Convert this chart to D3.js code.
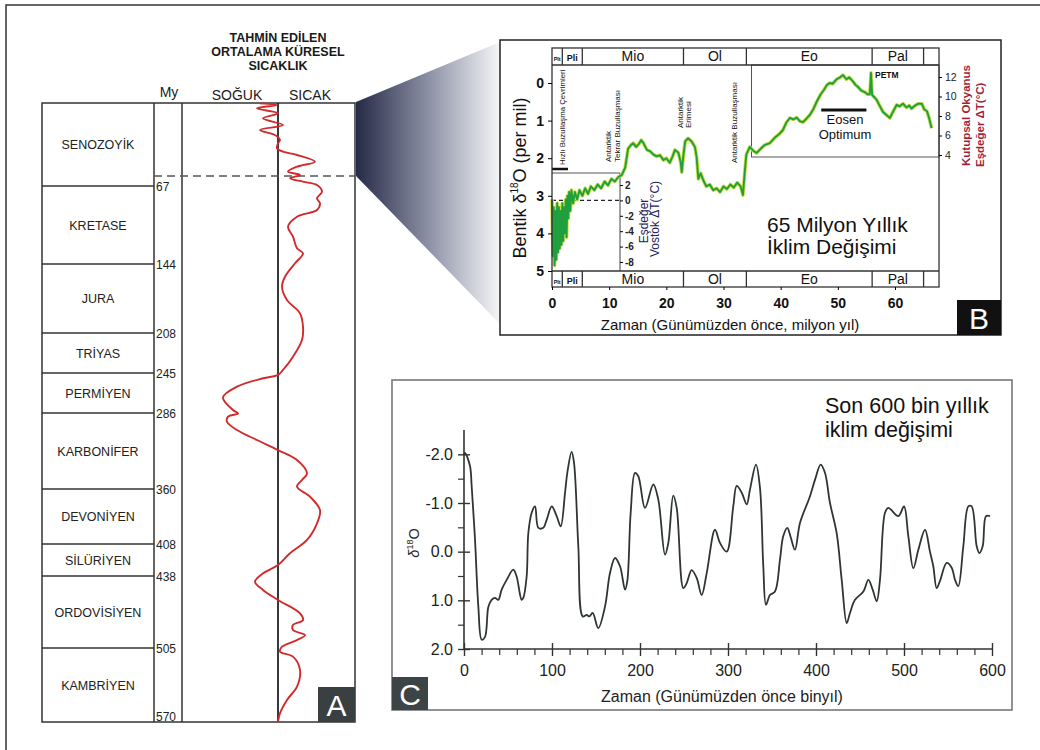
<!DOCTYPE html>
<html lang="tr">
<head><meta charset="utf-8">
<title>İklim Değişimi - D3</title>
<style>
body { margin: 0; background: #fff; }
svg { display: block; font-family: "Liberation Sans", Arial, Helvetica, sans-serif; }
.axis path.domain { display: none; }
</style>
</head>
<body>
<svg id="chart"></svg>
<script src="https://cdn.jsdelivr.net/npm/d3@7"></script>
<script>

// ---- Panel A: jeolojik zaman cetveli ----
var periodNames = ["SENOZOYİK", "KRETASE", "JURA", "TRİYAS", "PERMİYEN", "KARBONİFER",
                   "DEVONİYEN", "SİLÜRİYEN", "ORDOVİSİYEN", "KAMBRİYEN"];
var periodAges = [0, 67, 144, 208, 245, 286, 360, 408, 438, 505, 570];
var zoomAge = 59; // kesikli çizgi (B paneline bağlanan aralık)

var tempAge = [0.3, 1.6, 4.3, 8.3, 12.4, 17.8, 21.8, 25.8, 29.9, 32.5, 36.6, 39.3, 42, 47.4, 51.4,
  55.4, 58.1, 60.8, 63.5, 66.2, 72.6, 79.1, 84.1, 90.7, 97.3, 107.2, 117, 128.5, 133.5, 143.3,
  155.8, 165.1, 177.4, 189.8, 202.2, 214.5, 229.9, 242.2, 247, 250.4, 259, 270, 282.9, 286.3, 289.6,
  294.5, 302.6, 312.3, 322.1, 331.8, 344.8, 351.2, 357.8, 366.7, 378.4, 390, 404.5, 416.7, 427.7, 435.5,
  443.3, 451, 460.3, 472.7, 479, 483.6, 488.3, 493, 497.6, 503.8, 508.2, 512.6, 524.3, 539, 550.6,
  562.3, 570];
var tempVal = [-1.8, -0.1, -2.1, 0, -1.5, 0.5, -1.8, -0.3, 0.2, 0, -0.1, 0.5, 1.9, 3.7, 1.9,
  1.0, 2.2, 1.2, 2.5, 3.9, 4.4, 3.9, 4.2, 3.9, 1.9, 1.0, 1.5, 1.9, 2.5, 1.7,
  0.7, 0.4, 0.9, 2.2, 2.5, 2.4, 1.5, 0.5, 0, -1.5, -4.1, -5.5, -4.5, -4.0, -5.0,
  -5.1, -4.1, -2.1, 0, 1.9, 2.9, 2.4, 1.9, 3.2, 4.2, 3.9, 2.9, 1.2, 0, -1.5,
  -2.3, -1.5, 0, 2.2, 2.5, 1.5, 1.5, 2.7, 1.9, 0.4, 0.2, 1.5, 2.2, 1.9, 0.9,
  0.2, 0];

// ---- Panel B: 65 milyon yıl bentik δ18O ----
var epochNames = ["Plt", "Pli", "Mio", "Ol", "Eo", "Pal", ""];
var epochBounds = [0, 1.8, 5.3, 23, 34, 56, 65, 67.7];
var bTicksX = [0, 10, 20, 30, 40, 50, 60];
var bTicksY = [0, 1, 2, 3, 4, 5];
var polarTicks = [4, 6, 8, 10, 12];
var vostokTicks = [-8, -6, -4, -2, 0, 2];

var bentT = [0, 0.15, 0.3, 0.45, 0.6, 0.75, 0.9, 1.05, 1.2, 1.35, 1.5, 1.65, 1.8, 1.95, 2.1, 2.25, 2.4, 2.55,
  2.7, 2.85, 3.0, 3.2, 3.4, 3.7, 4.0, 4.4, 4.8, 5.3, 5.8, 6.3, 6.8, 7.4, 8.0, 8.6, 9.2, 9.8, 10.4, 11.0,
  11.6, 12.2, 12.8, 13.3, 13.8, 14.2, 14.7, 15.2, 15.6, 16.0, 16.6, 17.2, 17.7, 18.3, 18.9, 19.5, 20.0,
  20.6, 21.1, 21.5, 22.1, 22.5, 22.7, 23.0, 23.3, 23.8, 24.4, 25.0, 25.3, 25.6, 26.0, 26.5, 27.0, 27.6,
  28.2, 28.8, 29.4, 30.0, 30.6, 31.2, 31.8, 32.4, 33.0, 33.4, 33.7, 34.0, 34.6, 35.2, 35.8, 36.5, 37.2,
  38.1, 39.0, 39.8, 40.4, 41.0, 41.6, 42.2, 42.8, 43.4, 43.9, 44.5, 45.1, 45.7, 46.3, 47.0, 47.5, 48.1,
  48.6, 49.1, 49.8, 50.4, 50.9, 51.5, 52.0, 52.6, 53.1, 53.5, 54.1, 54.7, 55.2, 55.6, 55.8, 56.0, 56.4,
  56.8, 57.3, 57.9, 58.5, 59.1, 59.7, 60.3, 60.8, 61.4, 62.0, 62.5, 62.9, 63.5, 64.1, 64.7, 65.1, 65.6,
  66.0, 66.4];
var bentV = [3.1, 4.6, 3.3, 4.85, 3.4, 4.7, 3.2, 4.5, 3.3, 4.4, 3.4, 4.3, 3.2, 4.2, 3.3, 4.0, 3.1, 4.1,
  3.0, 3.6, 2.9, 3.4, 2.85, 3.2, 2.9, 3.1, 2.85, 3.0, 2.8, 2.95, 2.75, 2.85, 2.7, 2.8, 2.62, 2.72, 2.55, 2.62,
  2.5, 2.45, 2.25, 1.75, 1.65, 1.6, 1.7, 1.62, 1.52, 1.6, 1.78, 1.82, 1.9, 1.95, 1.92, 2.05, 2.0,
  2.12, 1.95, 1.78, 1.85, 2.1, 2.37, 1.9, 1.55, 1.47, 1.55, 1.7, 1.97, 2.55, 2.4, 2.6, 2.75, 2.7,
  2.85, 2.8, 2.9, 2.75, 2.82, 2.7, 2.78, 2.65, 2.75, 2.98, 2.4, 1.9, 1.7, 1.8, 1.86, 1.75, 1.65,
  1.6, 1.45, 1.35, 1.25, 1.05, 0.93, 0.97, 0.92, 1.02, 1.04, 0.95, 0.85, 0.7, 0.5, 0.3, 0.2, 0.05,
  0.0, 0.02, -0.1, -0.15, -0.21, -0.1, -0.15, -0.05, 0.05, 0.1, 0.2, 0.24, 0.3, 0.3, -0.27, 0.32, 0.38,
  0.45, 0.6, 0.77, 0.85, 0.93, 0.75, 0.58, 0.62, 0.55, 0.65, 0.6, 0.68, 0.6, 0.55, 0.55, 0.7, 0.75,
  0.95, 1.2];

// ---- Panel C: son 600 bin yıl ----
var cTicksX = [0, 100, 200, 300, 400, 500, 600];
var cTicksY = [-2, -1, 0, 1, 2];
var sonT = [0, 1.1, 6.8, 8.7, 12.5, 16.3, 20.1, 23.9, 27.7, 31.4, 35.2, 39, 42.8, 48.5, 56, 59.8, 65.5, 67.4,
  71.2, 73.1, 76.9, 80.7, 84.5, 90.1, 94, 99.7, 105.3, 109.9, 114.8, 117.4, 122.3, 125, 129.9, 134.9,
  139.4, 142.4, 146.2, 152.6, 160.2, 165.9, 171.6, 177.3, 183, 185.6, 189.4, 194.3, 198.1, 205.7, 215.1,
  220.8, 228.4, 232.2, 237.8, 241.7, 249.2, 253, 258.7, 264.4, 270.1, 275.8, 285.2, 290.9, 298.5, 306,
  309.9, 315.6, 321.3, 325, 331.8, 336.4, 340.1, 343.2, 347.7, 353.4, 359.1, 362.8, 367.4, 371.2, 376.1,
  381.8, 393.2, 398.9, 405.3, 410.2, 415.9, 423.5, 429.2, 434.9, 438.6, 444.3, 453.8, 459.5, 464.4, 469,
  472.7, 478.4, 482.2, 493.6, 500, 504.9, 510.6, 516.3, 523.9, 529.5, 533.3, 537.1, 540.9, 548.5, 554.2,
  558, 561.7, 567.4, 573.1, 576.9, 582.6, 585.6, 589.4, 593.2, 597.7];
var sonV = [-2.0, -2.03, -1.76, -1.35, -0.25, 1.13, 1.81, 1.75, 1.13, 0.99, 0.95, 0.99, 0.78, 0.58, 0.37, 0.51, 0.99, 0.95,
  0.51, -0.38, -0.8, -0.93, -0.49, -0.49, -0.66, -0.93, -0.73, -0.52, -1.21, -1.62, -2.05, -1.83, -0.11, 1.33,
  1.30, 1.33, 1.26, 1.57, 1.13, 0.44, 0.13, 0.30, 0.78, 0.6, -0.8, -1.62, -1.55, -0.9, -1.38,
  -1.07, 0.06, -0.18, -1.15, -0.9, 0.75, 0.65, 0.38, 0.54, 0.89, 0.44, -0.45, -0.18, 0, -0.93,
  -1.35, -1.21, -0.97, -1.28, -1.79, -1.3, 0.3, 1.09, 0.89, 0.82, 0.16, -0.32, -0.49, -0.3, -0.04,
  -0.59, -1.14, -1.48, -1.79, -1.62, -1.0, -0.38, 0.58, 1.47, 1.26, 0.99, 0.82, 0.58, 0.78, 1.02,
  0.58, -0.8, -0.9, -0.73, -0.93, -0.32, 0.34, -0.04, -0.45, 0.0, 0.3, 0.75, 0.6, 0.23, 0.33,
  0.58, 0.71, -0.11, -0.93, -0.93, -0.11, 0.03, -0.11, -0.73, -0.73];

var svg = d3.select("#chart").attr("width", 1040).attr("height", 750);

// outer frame
svg.append("rect").attr("x", 6).attr("y", 5).attr("width", 1100).attr("height", 1000)
    .attr("fill", "none").attr("stroke", "#333").attr("stroke-width", 1.5);

// gradient wedge from A to B
var grad = svg.append("defs").append("linearGradient").attr("id", "wedge")
    .attr("gradientUnits", "userSpaceOnUse")
    .attr("x1", 356).attr("x2", 500).attr("y1", 0).attr("y2", 0);
grad.selectAll("stop")
    .data([[0, "#252a46"], [0.5, "#8c90a5"], [1, "#f6f6f8"]])
  .enter().append("stop")
    .attr("offset", function(d) { return d[0]; })
    .attr("stop-color", function(d) { return d[1]; });
svg.append("path").attr("d", "M356,102 L500,42 L500,324 L356,176 Z").attr("fill", "url(#wedge)");

function line(g, x1, y1, x2, y2, stroke, w) {
  return g.append("line").attr("x1", x1).attr("y1", y1).attr("x2", x2).attr("y2", y2)
      .attr("stroke", stroke || "#333").attr("stroke-width", w || 1.5);
}
function text(g, x, y, str, size, opts) {
  opts = opts || {};
  return g.append("text").attr("x", x).attr("y", y).text(str)
      .attr("font-size", size)
      .attr("text-anchor", opts.anchor || "start")
      .attr("font-weight", opts.weight || "normal")
      .attr("fill", opts.fill || "#1a1a1a");
}
function vtext(g, x, y, str, size, opts) {
  opts = opts || {};
  return g.append("text").attr("transform", "translate(" + x + "," + y + ") rotate(-90)")
      .text(str).attr("font-size", size)
      .attr("text-anchor", opts.anchor || "start")
      .attr("font-weight", opts.weight || "normal")
      .attr("fill", opts.fill || "#111");
}

// ================= PANEL A =================
var gA = svg.append("g");
var yA = d3.scaleLinear().domain(periodAges)
    .range([103, 186, 264, 333, 373, 413, 489, 544, 576, 648, 722]);
var xA = d3.scaleLinear().domain([-8, 8]).range([198, 358]);

text(gA, 278, 42, "TAHMİN EDİLEN", 12.5, {anchor: "middle", weight: "bold"});
text(gA, 278, 56, "ORTALAMA KÜRESEL", 12.5, {anchor: "middle", weight: "bold"});
text(gA, 278, 70, "SICAKLIK", 12.5, {anchor: "middle", weight: "bold"});
text(gA, 169, 97, "My", 14, {anchor: "middle"});
text(gA, 237, 100, "SOĞUK", 14, {anchor: "middle"});
text(gA, 310, 100, "SICAK", 14, {anchor: "middle"});

gA.append("rect").attr("x", 42).attr("y", yA(0)).attr("width", 313).attr("height", yA(570) - yA(0))
    .attr("fill", "none").attr("stroke", "#333").attr("stroke-width", 1.5);
[154, 182].forEach(function(x) { line(gA, x, yA(0), x, yA(570)); });
line(gA, xA(0), yA(0), xA(0), yA(570), "#222", 1.8);
periodAges.slice(1, -1).forEach(function(a) { line(gA, 42, yA(a), 154, yA(a)); });

periodNames.forEach(function(n, i) {
  text(gA, 98, (yA(periodAges[i]) + yA(periodAges[i + 1])) / 2 + 4.5, n, 12.5, {anchor: "middle", fill: "#222"});
});
periodAges.slice(1).forEach(function(a) {
  text(gA, 156, Math.min(yA(a) + 4.5, 721), a, 12, {fill: "#222"});
});

line(gA, 154, yA(zoomAge), 355, yA(zoomAge), "#555", 1.5).attr("stroke-dasharray", "8,5");

gA.append("path")
    .datum(tempAge.map(function(a, i) { return [a, tempVal[i]]; }))
    .attr("fill", "none").attr("stroke", "#d22a2a").attr("stroke-width", 1.9)
    .attr("d", d3.line().x(function(d) { return xA(d[1]); }).y(function(d) { return yA(d[0]); })
      .curve(d3.curveCatmullRom));

gA.append("rect").attr("x", 318).attr("y", 687).attr("width", 37).attr("height", 35).attr("fill", "#3a3f42");
text(gA, 336.5, 716, "A", 30, {anchor: "middle", fill: "#fff"});

// ================= PANEL B =================
var gB = svg.append("g");
gB.append("rect").attr("x", 500).attr("y", 40).attr("width", 501).attr("height", 295)
    .attr("fill", "#fff").attr("stroke", "#222").attr("stroke-width", 1.5);

var xB = d3.scaleLinear().domain([0, 60]).range([552, 895]);
var yB = d3.scaleLinear().domain([0, 5]).range([83, 271]);
var yPolar = d3.scaleLinear().domain([4, 12]).range([155, 77]);
var yVostok = d3.scaleLinear().domain([-8, 2]).range([262, 185]);
var bL = xB(0), bR = xB(67.7), bT = 48, bBot = 287;

// insets
gB.append("rect").attr("x", xB(34.9)).attr("y", 65).attr("width", bR - xB(34.9)).attr("height", yPolar(4) + 2 - 65)
    .attr("fill", "none").attr("stroke", "#555").attr("stroke-width", 1);
line(gB, bL, 173, xB(11.9), 173, "#555", 1);
line(gB, xB(11.9), 173, xB(11.9), yB(5), "#444", 1);
line(gB, bL, yVostok(0), xB(11.9), yVostok(0), "#223", 1.1).attr("stroke-dasharray", "4,3");
line(gB, bL, 169, xB(2.8), 169, "#111", 2.5);

// bentic curve
var bentLine = d3.line().x(function(d) { return xB(d[0]); }).y(function(d) { return yB(d[1]); });
var bentData = bentT.map(function(t, i) { return [t, bentV[i]]; });
gB.append("path").datum(bentData).attr("fill", "none").attr("stroke", "#c9dc3c")
    .attr("stroke-width", 3.6).attr("stroke-linejoin", "round").attr("d", bentLine);
gB.append("path").datum(bentData).attr("fill", "none").attr("stroke", "#1f9f3e")
    .attr("stroke-width", 1.9).attr("stroke-linejoin", "round").attr("d", bentLine);

// frame and epoch bars
gB.append("rect").attr("x", bL).attr("y", bT).attr("width", bR - bL).attr("height", bBot - bT)
    .attr("fill", "none").attr("stroke", "#333").attr("stroke-width", 1.3);
line(gB, bL, 65, bR, 65, "#333", 1.3);
line(gB, bL, yB(5), bR, yB(5), "#333", 1.3);
epochBounds.slice(1, -1).forEach(function(b) {
  line(gB, xB(b), bT, xB(b), 65, "#333", 1.3);
  line(gB, xB(b), yB(5), xB(b), bBot, "#333", 1.3);
});
epochNames.forEach(function(n, i) {
  var cx = (xB(epochBounds[i]) + xB(epochBounds[i + 1])) / 2;
  var size = i === 0 ? 5.5 : (i === 1 ? 9 : 14);
  text(gB, cx, 61, n, size, {anchor: "middle", weight: i < 2 ? "bold" : "normal", fill: "#111"});
  text(gB, cx, 283.5, n, size, {anchor: "middle", weight: i < 2 ? "bold" : "normal", fill: "#111"});
});

// axes
var axL = gB.append("g").attr("class", "axis").attr("transform", "translate(" + bL + ",0)")
    .call(d3.axisLeft(yB).tickValues(bTicksY).tickSize(4).tickPadding(4).tickFormat(d3.format("d")));
axL.selectAll("text").attr("font-size", 14).attr("font-weight", "bold").attr("font-family", null).attr("fill", "#111");

var axBt = gB.append("g").attr("class", "axis").attr("transform", "translate(0," + bBot + ")")
    .call(d3.axisBottom(xB).tickValues(bTicksX).tickSize(3).tickPadding(8).tickFormat(d3.format("d")));
axBt.selectAll("text").attr("font-size", 14).attr("font-weight", "bold").attr("font-family", null).attr("fill", "#111");

var axP = gB.append("g").attr("class", "axis").attr("transform", "translate(" + bR + ",0)")
    .call(d3.axisRight(yPolar).tickValues(polarTicks).tickSize(3).tickPadding(3));
axP.selectAll("text").attr("font-size", 10.5).attr("font-family", null).attr("fill", "#222");

var axV = gB.append("g").attr("class", "axis").attr("transform", "translate(" + xB(11.9) + ",0)")
    .call(d3.axisRight(yVostok).tickValues(vostokTicks).tickSize(3).tickPadding(2)
      .tickFormat(function(d) { return d < 0 ? "-" + (-d) : d; }));
axV.selectAll("text").attr("font-size", 10).attr("font-weight", "bold").attr("font-family", null).attr("fill", "#222");

// axis titles
var yl = vtext(gB, 526, 178, "", 18, {anchor: "middle", fill: "#111"});
yl.append("tspan").text("Bentik δ");
yl.append("tspan").text("18").attr("font-size", 10).attr("dy", -8);
yl.append("tspan").text("O (per mil)").attr("dy", 8);

text(gB, 730, 330, "Zaman (Günümüzden önce, milyon yıl)", 15, {anchor: "middle", fill: "#111"});
vtext(gB, 970, 166, "Kutupsal Okyanus", 11.5, {weight: "bold", fill: "#a51f3b"});
vtext(gB, 984, 167, "Eşdeğer ΔT(°C)", 11.5, {weight: "bold", fill: "#a51f3b"});
vtext(gB, 648, 221, "Eşdeğer", 12, {anchor: "middle", fill: "#1c2160"});
vtext(gB, 659, 219, "Vostok ΔT(°C)", 12, {anchor: "middle", fill: "#1c2160"});

// annotations
vtext(gB, 565, 165, "Hızlı Buzullaşma Çevrimleri", 7.8);
vtext(gB, 611, 162, "Antarktik", 8);
vtext(gB, 620, 162, "Tekrar Buzullaşması", 8);
vtext(gB, 683, 128, "Antarktik", 8);
vtext(gB, 691, 128, "Erimesi", 8);
vtext(gB, 737, 163, "Antarktik Buzullaşması", 8);
text(gB, 875, 78, "PETM", 8.5, {weight: "bold", fill: "#111"});
line(gB, xB(47.1), 110, xB(55.0), 110, "#111", 3);
text(gB, 845, 124, "Eosen", 13, {anchor: "middle", fill: "#111"});
text(gB, 845, 138.5, "Optimum", 13, {anchor: "middle", fill: "#111"});
text(gB, 767, 232, "65 Milyon Yıllık", 21, {fill: "#111"});
text(gB, 767, 254, "İklim Değişimi", 21, {fill: "#111"});

gB.append("rect").attr("x", 957).attr("y", 300).attr("width", 44).attr("height", 35).attr("fill", "#111");
text(gB, 979, 329, "B", 30, {anchor: "middle", fill: "#fff"});

// ================= PANEL C =================
var gC = svg.append("g");
gC.append("rect").attr("x", 392).attr("y", 380).attr("width", 620).attr("height", 330)
    .attr("fill", "#fff").attr("stroke", "#777").attr("stroke-width", 1.6);

var xC = d3.scaleLinear().domain([0, 600]).range([464, 992]);
var yC = d3.scaleLinear().domain([-2.5, 2]).range([430, 649]);

line(gC, xC(0), yC(-2.5), xC(0), yC(2), "#333", 1.6);
line(gC, xC(0), yC(2), xC(600), yC(2), "#333", 1.6);

var axCy = gC.append("g").attr("class", "axis").attr("transform", "translate(" + xC(0) + ",0)")
    .call(d3.axisLeft(yC).tickValues(cTicksY).tickSize(6).tickPadding(5)
      .tickFormat(function(d) { return (d < 0 ? "-" : "") + Math.abs(d).toFixed(1); }));
axCy.selectAll(".tick line").attr("x1", 6).attr("stroke", "#333").attr("stroke-width", 1.4);
axCy.selectAll("text").attr("font-size", 16).attr("font-family", null).attr("fill", "#222");
gC.append("g").attr("class", "axis").attr("transform", "translate(" + xC(0) + ",0)")
    .call(d3.axisLeft(yC).tickValues([-1.5, -0.5, 0.5, 1.5]).tickSize(6).tickFormat(""))
    .selectAll(".tick line").attr("stroke", "#333").attr("stroke-width", 1.2);

var axCx = gC.append("g").attr("class", "axis").attr("transform", "translate(0," + yC(2) + ")")
    .call(d3.axisBottom(xC).tickValues(cTicksX).tickSize(7).tickPadding(9));
axCx.selectAll(".tick line").attr("y1", -6).attr("stroke", "#333").attr("stroke-width", 1.4);
axCx.selectAll("text").attr("font-size", 16).attr("font-family", null).attr("fill", "#222");
gC.append("g").attr("class", "axis").attr("transform", "translate(0," + yC(2) + ")")
    .call(d3.axisBottom(xC).tickValues(d3.range(20, 600, 20).filter(function(d) { return d % 100; }))
      .tickSize(6).tickFormat(""))
    .selectAll(".tick line").attr("stroke", "#333").attr("stroke-width", 1.2);

var dl = vtext(gC, 419, 543, "", 14.5, {anchor: "middle", fill: "#222"});
dl.append("tspan").text("δ").attr("font-style", "italic");
dl.append("tspan").text("18").attr("font-size", 9).attr("dy", -6);
dl.append("tspan").text("O").attr("dy", 6);

text(gC, 722, 702, "Zaman (Günümüzden önce binyıl)", 16, {anchor: "middle", fill: "#222"});
text(gC, 825, 413, "Son 600 bin yıllık", 21.5, {fill: "#111"});
text(gC, 825, 437, "iklim değişimi", 21.5, {fill: "#111"});

gC.append("path")
    .datum(sonT.map(function(t, i) { return [t, sonV[i]]; }))
    .attr("fill", "none").attr("stroke", "#2f3536").attr("stroke-width", 1.8)
    .attr("d", d3.line().x(function(d) { return xC(d[0]); }).y(function(d) { return yC(d[1]); })
      .curve(d3.curveCatmullRom));

gC.append("rect").attr("x", 392).attr("y", 677).attr("width", 36).attr("height", 33).attr("fill", "#3d4446");
text(gC, 410, 705, "C", 30, {anchor: "middle", fill: "#fff"});

</script>
</body>
</html>
